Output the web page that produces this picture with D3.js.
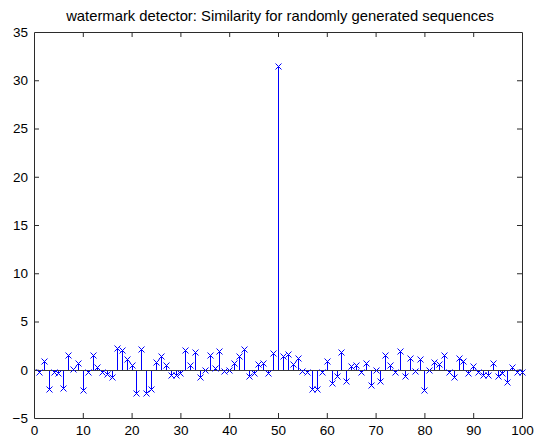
<!DOCTYPE html>
<html>
<head>
<meta charset="utf-8">
<script src="https://cdn.jsdelivr.net/npm/d3@7"></script>
<style>
  html, body { margin: 0; padding: 0; background: #ffffff; }
  svg { display: block; }
  text { font-family: "Liberation Sans", Arial, sans-serif; fill: #000; }
</style>
</head>
<body>
<script>
// ---- data ----
const titleText = "watermark detector: Similarity for randomly generated sequences";
const indices = d3.range(1, 101);
const similarity = [
  -0.25, 0.95, -2.0, -0.25, -0.3, -1.85, 1.5, 0.1, 0.7, -2.1,
  -0.25, 1.5, 0.3, -0.2, -0.45, -0.7, 2.3, 2.0, 1.15, 0.45,
  -2.4, 2.2, -2.4, -2.0, 0.8, 1.4, 0.45, -0.5, -0.5, -0.3,
  2.0, 0.45, 1.8, -0.7, -0.05, 1.55, 0.15, 1.9, -0.1, -0.05,
  0.7, 1.45, 2.15, -0.6, -0.35, 0.6, 0.75, -0.35, 1.7, 31.5,
  1.4, 1.65, 0.6, 1.25, -0.15, -0.25, -1.95, -2.0, -0.25, 0.95,
  -1.4, -0.6, 1.8, -1.2, 0.35, 0.45, -0.25, 0.75, -1.6, -0.05,
  -1.15, 1.55, 0.45, -0.25, 1.95, -0.6, 1.2, -0.15, 1.15, -2.05,
  0.02, 0.85, 0.6, 1.5, -0.2, -0.75, 1.25, 0.95, -0.35, 0.4,
  -0.2, -0.5, -0.5, 0.65, -0.65, -0.3, -1.3, 0.3, -0.25, -0.25
];
const xTicks = d3.range(0, 101, 10);
const yTicks = d3.range(-5, 36, 5);

(function () {
// ---- layout ----
const W = 537, H = 442;
const pLeft = 34, pRight = 522, pTop = 32, pBottom = 418;
const fontSize = "13.5px";

const x = d3.scaleLinear().domain([0, 100]).range([pLeft, pRight]);
const y = d3.scaleLinear().domain([-5, 35]).range([pBottom, pTop]);

const svg = d3.select("body").append("svg").attr("width", W).attr("height", H);

svg.append("rect").attr("width", W).attr("height", H).attr("fill", "#ffffff");

// title
svg.append("text")
  .attr("x", (pLeft + pRight) / 2 + 2).attr("y", 21)
  .attr("text-anchor", "middle")
  .style("font-size", "14.8px")
  .text(titleText);

const axisColor = "#2b2b2b";
const tickLen = 5;

const gB = svg.append("g").attr("transform", `translate(0,${pBottom})`)
  .call(d3.axisBottom(x).tickValues(xTicks).tickSizeInner(-tickLen).tickSizeOuter(0).tickPadding(7).tickFormat(d3.format("d")));
const gT = svg.append("g").attr("transform", `translate(0,${pTop})`)
  .call(d3.axisTop(x).tickValues(xTicks).tickSizeInner(-tickLen).tickSizeOuter(0).tickFormat(""));
const gL = svg.append("g").attr("transform", `translate(${pLeft},0)`)
  .call(d3.axisLeft(y).tickValues(yTicks).tickSizeInner(-tickLen).tickSizeOuter(0).tickPadding(6).tickFormat(d3.format("d")));
const gR = svg.append("g").attr("transform", `translate(${pRight},0)`)
  .call(d3.axisRight(y).tickValues(yTicks).tickSizeInner(-tickLen).tickSizeOuter(0).tickFormat(""));

[gB, gT, gL, gR].forEach(g => {
  g.selectAll(".domain").attr("stroke", axisColor).attr("stroke-width", 1);
  g.selectAll(".tick line").attr("stroke", axisColor);
  g.selectAll(".tick text").style("font-size", fontSize).attr("fill", "#000")
    .style("font-family", "'Liberation Sans', Arial, sans-serif");
});
gT.selectAll(".tick").filter(d => d === 0 || d === 100).select("line").remove();
gB.selectAll(".tick").filter(d => d === 0 || d === 100).select("line").remove();
gL.selectAll(".tick").filter(d => d === -5 || d === 35).select("line").remove();
gR.selectAll(".tick").filter(d => d === -5 || d === 35).select("line").remove();

const data = indices.map((d, i) => ({ i: d, v: similarity[i] }));
const blue = "rgb(0,0,255)";
const y0 = Math.round(y(0)) + 0.5;

// stems
svg.append("path")
  .attr("d", data.map(d => {
    const cx = Math.round(x(d.i)) + 0.5;
    return `M${cx},${y0}V${Math.round(y(d.v)) + 0.5}`;
  }).join(""))
  .attr("stroke", blue).attr("stroke-width", 1).attr("fill", "none");

// baseline
svg.append("line")
  .attr("x1", x(0)).attr("x2", x(100))
  .attr("y1", y0).attr("y2", y0)
  .attr("stroke", "#3a3a3a").attr("stroke-width", 1);

// 'x' markers
const m = 3;
svg.append("path")
  .attr("d", data.map(d => {
    const cx = Math.round(x(d.i)) + 0.5, cy = Math.round(y(d.v)) + 0.5;
    return `M${cx - m},${cy - m}L${cx + m},${cy + m}M${cx - m},${cy + m}L${cx + m},${cy - m}`;
  }).join(""))
  .attr("stroke", blue).attr("stroke-width", 1).attr("fill", "none");
})();
</script>
</body>
</html>
